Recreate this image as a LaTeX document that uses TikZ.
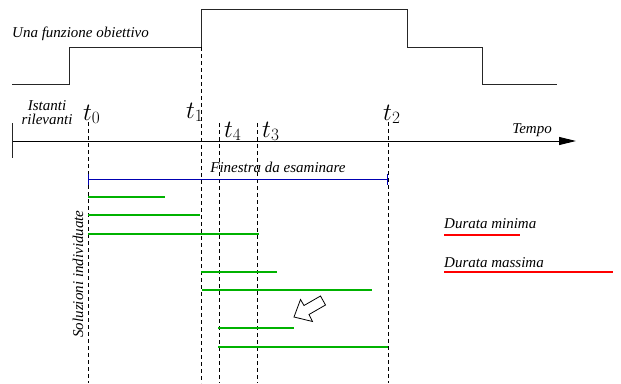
\documentclass[tikz,border=0pt]{standalone}
\usepackage{fontspec}
\setmainfont{Liberation Serif}
\usetikzlibrary{arrows.meta,positioning}

\begin{document}
\begin{tikzpicture}[x=1pt, y=-1pt,
  lbl/.style={font=\fontsize{15}{14.5}\selectfont\itshape, inner sep=0pt},
  ist/.style={font=\fontsize{25}{25}\selectfont, inner sep=0pt, anchor=base west},
  fline/.style={draw=black!85, line width=0.9pt},
  guide/.style={draw=black, line width=0.8pt, dash pattern=on 4pt off 3pt},
  win/.style={draw=blue!70!black, line width=0.9pt, {Bar[width=11pt]}-{Bar[width=11pt]}},
  sol/.style={draw=green!70!black, line width=1.8pt},
  dur/.style={draw=red, line width=1.8pt},
  ar/.style={-{Triangle[length=17pt, width=8pt]}, line width=0.9pt},
]
\useasboundingbox (0,0) rectangle (621,383);

%--- Funzione obiettivo ---
\node[lbl, anchor=base west] (fobj) at (12,37) {Una funzione obiettivo};
\draw[fline] (12,84) -- (69,84) -- (69,47) -- (201,47) -- (201,9) -- (407,9)
  -- (407,47) -- (482,47) -- (482,84) -- (557,84);

%--- Asse dei tempi ---
\coordinate (ax0) at (12,141);
\coordinate (ax1) at (576,141);
\draw[ar] (ax0) -- (ax1);
\draw[fline] (12,123) -- (12,158);
\node[lbl, align=center, anchor=north] (ist) at (47,100) {Istanti\\rilevanti};
\node[lbl, anchor=base east] (tempo) at (552,133) {Tempo};

%--- Istanti ---
\node[ist] (t0) at (83,120) {$t_0$};
\node[ist] (t1) at (186,118) {$t_1$};
\node[ist] (t4) at (224,137) {$t_4$};
\node[ist] (t3) at (262,137) {$t_3$};
\node[ist] (t2) at (383,120) {$t_2$};

\draw[guide] (88,122) -- (88,383);
\draw[guide] (201,47) -- (201,383);
\draw[guide] (219,123) -- (219,383);
\draw[guide] (257,123) -- (257,383);
\draw[guide] (388,122) -- (388,383);

%--- Finestra ---
\coordinate (w0) at (88,179);
\coordinate (w1) at (388,179);
\draw[win] (w0) -- (w1);
\node[lbl, anchor=base] (fin) at (278,172) {Finestra da esaminare};

%--- Soluzioni ---
\node[lbl, rotate=90, anchor=base] (soluz) at (83,274) {Soluzioni individuate};
\draw[sol] (88,197) -- (165,197);
\draw[sol] (88,215) -- (200,215);
\draw[sol] (88,234) -- (259,234);
\draw[sol] (201,272) -- (277,272);
\draw[sol] (202,290) -- (372,290);
\draw[sol] (218,328) -- (294,328);
\draw[sol] (218,347) -- (388,347);

% freccia vuota
\draw[draw=black, line width=0.8pt, line join=miter]
  (294,317) -- (300.5,299.5) -- (304,305.5) -- (320.5,296) -- (325.5,305)
  -- (309,314.5) -- (312.5,321.5) -- cycle;

%--- Durate ---
\node[lbl, anchor=base west] (dmin) at (444,228) {Durata minima};
\draw[dur] (444,235) -- (520,235);
\node[lbl, anchor=base west] (dmax) at (444,267) {Durata massima};
\draw[dur] (444,272) -- (613,272);

\end{tikzpicture}
\end{document}
